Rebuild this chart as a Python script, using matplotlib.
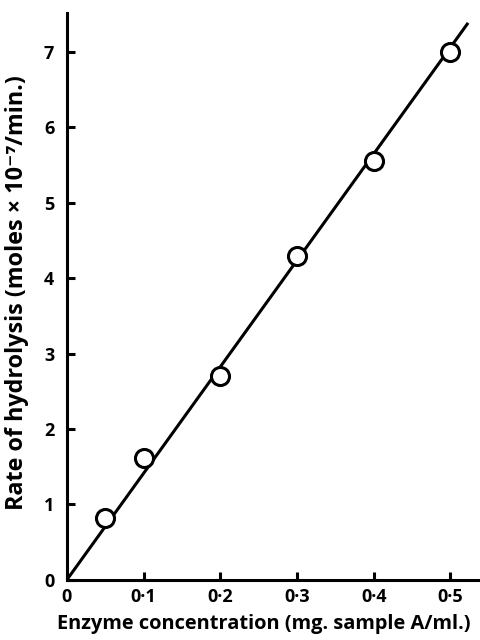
import matplotlib
matplotlib.use("Agg")
import matplotlib.pyplot as plt
import numpy as np

conc = [0.05, 0.1, 0.2, 0.3, 0.4, 0.5]
rate = [0.82, 1.62, 2.70, 4.30, 5.55, 7.00]
line_x = [0.0, 0.522]
line_y = [0.0, 7.37]
xticks = [0, 0.1, 0.2, 0.3, 0.4, 0.5]
xticklabels = ["0", "0·1", "0·2", "0·3", "0·4", "0·5"]
yticks = [0, 1, 2, 3, 4, 5, 6, 7]
yticklabels = ["0", "1", "2", "3", "4", "5", "6", "7"]

plt.rcParams['font.family'] = ['Open Sans', 'DejaVu Sans']
plt.rcParams['font.weight'] = 'bold'

fig = plt.figure(figsize=(4.81, 6.40), dpi=100)
ax = fig.add_axes([0.139, 0.094, 0.861, 0.886])

ax.plot(line_x, line_y, color='black', lw=2.2, zorder=2)
ax.plot(conc, rate, 'o', ms=13, mfc='white', mec='black', mew=2.2, zorder=3)

ax.set_xlim(0, 0.54)
ax.set_ylim(0, 7.52)
for s in ['top', 'right']:
    ax.spines[s].set_visible(False)
for s in ['left', 'bottom']:
    ax.spines[s].set_linewidth(2.2)

ax.set_xticks(xticks)
ax.set_xticklabels(xticklabels, fontsize=13, fontweight='bold')
ax.set_yticks(yticks)
ax.set_yticklabels(yticklabels, fontsize=13, fontweight='bold')
ax.tick_params(axis='both', direction='in', length=6, width=2.2, pad=6)
ax.tick_params(axis='y', pad=9)

ax.set_xlabel("Enzyme concentration (mg. sample A/ml.)", fontsize=14.4, fontweight='bold')
ax.xaxis.set_label_coords(0.475, -0.060)
ax.set_ylabel("Rate of hydrolysis (moles × 10⁻⁷/min.)", fontsize=16.8, fontweight='bold')
ax.yaxis.set_label_coords(-0.092, 0.506)

fig.savefig("out.png", dpi=100)
